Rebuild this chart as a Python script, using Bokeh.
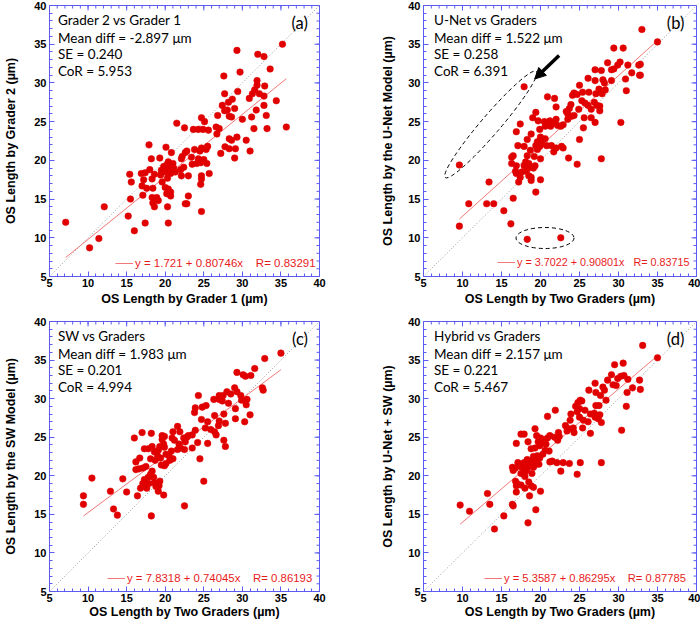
import math
from bokeh.plotting import figure
from bokeh.models import (Label, Range1d, Arrow, NormalHead, FixedTicker, Legend, LegendItem)
from bokeh.layouts import column, row
from bokeh.embed import file_html
from bokeh.resources import INLINE
from bokeh.core.properties import value

# ---------------- data ----------------
pts_a = [(35.2,35.0),(29.3,34.2),(32.0,33.7),(32.8,33.4),(33.6,31.8),(29.7,31.4),(27.6,30.9),(31.9,30.3),
         (31.9,29.7),(32.9,29.6),(31.6,29.1),(31.3,28.6),(29.4,28.9),(27.7,28.6),(30.9,28.0),(32.2,28.6),
         (32.8,28.3),(34.4,27.7),(28.2,27.5),(28.7,27.9),(29.0,26.7),(27.4,27.1),(27.7,26.4),(28.05,26.5),
         (32.8,27.1),(31.8,26.5),(28.3,25.7),(28.6,25.6),(30.0,25.3),(31.2,25.6),(33.1,25.8),(26.8,25.8),
         (24.7,25.5),(25.1,25.0),(21.5,24.8),(22.5,24.2),(23.65,24.0),(24.3,24.0),(24.9,24.0),(25.6,23.9),
         (26.6,24.3),(27.0,24.1),(26.7,23.4),(31.5,24.1),(33.2,24.1),(35.7,24.3),(28.3,22.8),(28.6,22.6),
         (29.3,23.0),(27.75,21.75),(28.3,21.5),(29.1,21.5),(30.5,22.6),(31.0,21.2),(29.0,20.3),(27.2,20.9),
         (17.9,22.0),(20.1,21.7),(20.8,21.0),(22.8,21.2),(22.6,21.0),(23.8,21.4),(24.7,21.6),(25.5,21.8),
         (24.5,21.2),(25.3,21.4),(22.1,20.2),(22.2,20.5),(23.4,20.4),(24.3,20.2),(25.0,20.1),(24.6,19.7),
         (25.4,19.6),(23.5,19.5),(24.1,19.6),(22.4,19.1),(18.2,20.2),(19.3,20.3),(20.4,19.8),(19.8,19.2),
         (20.2,19.4),(20.6,19.3),(21.0,19.6),(21.1,19.0),(20.5,18.8),(20.0,18.5),(20.7,18.3),(21.3,18.5),
         (19.4,18.1),(19.5,18.7),(22.0,18.8),(22.1,18.0),(23.0,18.0),(18.0,18.8),(16.9,18.3),(15.4,18.2),
         (15.6,17.2),(17.4,18.4),(17.2,17.5),(18.6,18.2),(18.3,17.6),(17.0,16.7),(17.6,16.4),(18.4,16.4),
         (19.6,17.2),(20.3,17.7),(20.0,16.5),(20.4,16.3),(20.7,15.9),(20.7,15.4),(20.2,15.7),(24.7,18.0),
         (24.7,17.6),(24.6,16.9),(25.7,18.3),(23.0,15.4),(17.1,15.5),(18.3,15.2),(18.9,15.2),(19.1,14.8),
         (18.4,14.5),(18.6,14.0),(15.5,15.0),(22.6,14.4),(22.8,14.4),(20.3,14.0),(24.7,13.4),(15.2,12.8),
         (17.4,11.9),(20.4,11.9),(7.1,12.0),(10.2,8.7),(11.4,9.9),(12.1,14.0),(16.0,10.9)]

pts_b = [(35.0,35.3),(29.4,34.5),(30.6,34.5),(28.6,32.6),(29.1,31.7),(29.4,31.8),(29.9,32.3),(30.2,32.7),
         (31.2,32.3),(32.6,32.3),(31.7,31.3),(32.7,31.0),(30.9,30.5),(31.0,29.0),(30.3,24.9),(27.0,31.7),
         (27.8,31.6),(26.1,30.6),(27.0,30.3),(28.0,30.4),(28.2,30.0),(29.1,30.3),(28.3,29.1),(27.5,29.2),
         (27.9,28.6),(27.1,28.6),(25.0,29.7),(24.3,28.7),(24.1,28.4),(24.7,28.5),(25.4,28.8),(26.2,28.8),
         (25.3,27.7),(25.7,27.4),(26.1,27.1),(26.9,27.5),(27.2,27.1),(27.6,27.0),(27.6,26.4),(26.5,26.6),
         (24.9,26.6),(23.9,27.2),(23.7,26.7),(23.3,26.3),(23.5,26.0),(24.0,25.7),(24.3,25.8),(25.6,25.5),
         (26.5,25.5),(27.0,24.9),(25.5,24.2),(25.0,22.7),(23.5,25.3),(22.0,25.3),(21.8,28.0),(20.9,28.2),
         (22.0,26.9),(19.4,26.2),(19.0,25.5),(19.7,25.1),(20.5,25.0),(20.9,24.6),(21.2,25.1),(20.6,24.4),
         (21.3,24.4),(21.8,24.8),(22.2,24.5),(22.6,24.4),(22.9,24.6),(17.4,24.7),(16.9,23.7),(18.8,23.4),
         (18.3,22.7),(19.9,24.0),(20.0,23.0),(20.6,22.8),(20.0,22.6),(19.6,22.4),(19.4,21.9),(19.9,21.8),
         (20.2,22.1),(20.8,21.9),(21.4,21.9),(22.0,21.6),(22.7,21.8),(22.9,21.6),(21.7,21.1),(17.1,21.9),
         (17.9,21.8),(18.7,21.3),(19.6,21.4),(20.0,20.2),(16.5,20.6),(16.3,20.4),(18.3,20.6),(19.2,20.5),
         (18.1,19.8),(16.3,19.6),(16.9,19.3),(17.9,19.3),(18.5,19.6),(18.7,19.1),(19.1,19.0),(19.3,19.3),
         (16.8,18.6),(17.6,18.5),(18.2,18.6),(16.9,18.3),(18.5,18.0),(18.8,17.8),(17.4,17.8),(17.2,17.2),
         (18.8,17.4),(20.0,17.5),(19.4,15.9),(23.6,20.3),(24.7,19.5),(27.8,20.2),(13.4,17.2),(16.5,15.1),
         (13.1,14.4),(14.0,14.4),(15.3,13.5),(16.2,11.8),(17.9,29.5),(18.3,9.8),(22.6,10.0),(9.6,19.4),
         (9.6,11.5),(10.8,14.4),(33.0,36.9),(32.8,32.4),(32.8,31.0)]

pts_c = [(35.0,35.9),(32.9,35.2),(31.6,33.9),(29.3,33.4),(30.1,33.1),(30.4,32.9),(31.1,33.0),(32.6,31.4),
         (32.7,31.1),(29.0,31.4),(29.3,30.9),(28.0,30.9),(28.5,30.6),(27.0,30.4),(27.5,30.4),(29.8,30.4),
         (30.6,29.9),(29.9,29.8),(28.2,29.4),(27.4,29.7),(27.0,29.9),(26.3,29.9),(30.5,29.2),(29.1,28.7),
         (24.3,30.4),(25.3,29.1),(24.8,28.9),(23.9,28.8),(23.8,28.2),(24.7,27.3),(25.5,27.0),(26.4,27.8),
         (27.0,27.1),(27.8,26.8),(27.6,28.0),(31.0,27.9),(29.1,27.4),(30.3,27.0),(25.9,26.0),(25.2,26.2),
         (26.4,25.7),(26.9,26.5),(26.6,25.3),(27.6,24.6),(27.8,23.8),(25.5,24.2),(24.5,22.2),(25.0,19.3),
         (22.5,16.1),(23.9,25.9),(23.5,25.3),(23.0,25.2),(22.8,25.0),(21.9,25.7),(21.6,26.4),(21.0,25.7),
         (20.9,24.9),(21.2,24.6),(22.4,24.9),(22.6,24.4),(21.8,24.1),(22.0,23.6),(21.6,23.4),(22.5,23.4),
         (23.5,23.6),(24.2,24.3),(19.6,25.2),(19.9,25.1),(19.6,24.7),(19.8,24.1),(19.9,23.7),(19.3,23.8),
         (19.1,23.3),(18.2,25.5),(17.0,25.6),(16.0,24.9),(17.3,23.5),(17.8,23.5),(18.3,23.8),(18.6,23.1),
         (19.0,22.6),(19.4,22.3),(20.1,22.8),(20.5,22.6),(20.8,23.2),(21.0,22.2),(20.6,22.0),(20.1,21.6),
         (19.5,21.4),(19.9,21.3),(18.7,22.0),(18.1,22.2),(16.7,22.3),(16.2,21.8),(16.2,20.8),(16.6,20.9),
         (17.1,21.0),(17.5,21.2),(18.3,20.6),(18.1,20.2),(17.8,19.8),(18.5,19.8),(17.3,19.5),(17.1,19.0),
         (17.9,19.0),(16.8,18.4),(18.6,19.1),(19.0,18.9),(19.3,19.3),(19.2,18.7),(18.8,18.6),(17.6,18.4),
         (19.1,18.0),(19.8,17.5),(16.4,17.4),(15.0,17.9),(14.5,19.6),(12.9,18.0),(13.3,15.7),(13.8,14.9),
         (18.2,14.8),(9.4,17.4),(9.4,16.3),(10.5,19.7)]

pts_d = [(33.1,36.9),(35.0,35.3),(29.5,34.4),(30.6,34.6),(29.1,33.1),(29.9,32.6),(30.3,32.9),(30.7,33.0),
         (31.2,32.5),(32.7,32.4),(31.8,31.4),(32.8,31.2),(31.1,30.8),(31.0,29.0),(30.4,25.9),(29.3,31.8),
         (29.7,31.7),(28.6,32.4),(27.0,32.0),(28.0,31.5),(28.2,31.1),(26.2,31.1),(27.1,30.8),(27.7,30.4),
         (28.4,29.8),(27.5,29.1),(27.1,29.1),(25.1,29.8),(24.8,29.5),(25.3,29.7),(24.5,29.0),(25.0,28.7),
         (24.7,28.3),(25.7,28.5),(26.4,28.0),(26.9,28.1),(27.0,27.6),(27.6,27.9),(27.8,26.9),(27.4,27.4),
         (25.0,27.6),(25.5,27.2),(26.1,27.0),(25.4,26.2),(26.4,25.5),(23.9,28.0),(23.8,27.2),(23.2,26.5),
         (23.6,26.1),(23.4,25.8),(24.2,26.2),(24.3,25.6),(22.3,25.6),(22.4,25.1),(21.8,25.0),(22.2,24.6),
         (21.9,28.5),(20.9,27.7),(21.2,25.2),(20.9,24.9),(20.4,24.7),(20.7,24.1),(20.3,24.3),(20.0,24.9),
         (19.7,24.4),(19.9,23.9),(20.6,23.3),(21.1,23.2),(20.3,22.8),(19.5,25.2),(19.3,26.1),(17.5,25.4),
         (17.9,25.4),(16.9,24.2),(18.4,24.4),(18.8,23.5),(19.3,23.6),(19.1,22.5),(19.6,22.6),(19.9,22.3),
         (19.5,21.9),(19.8,21.5),(18.8,21.9),(18.3,22.1),(17.9,21.7),(17.1,21.7),(18.5,21.3),(19.1,21.1),
         (19.4,21.5),(18.3,20.9),(17.6,21.1),(18.1,20.6),(16.8,21.0),(16.5,20.7),(16.4,21.1),(17.8,20.3),
         (17.5,20.3),(18.0,19.9),(18.9,20.3),(16.8,19.3),(17.0,19.0),(17.5,18.8),(16.9,18.7),(18.5,19.2),
         (18.8,18.7),(19.1,18.5),(18.0,18.4),(20.0,18.0),(16.9,17.9),(18.6,17.4),(16.4,16.3),(16.5,16.1),
         (19.4,15.6),(15.3,14.8),(18.4,13.9),(14.1,13.1),(21.2,21.8),(21.5,21.9),(22.1,21.7),(22.9,21.7),
         (23.7,21.6),(25.1,21.7),(27.8,21.7),(22.6,20.6),(24.7,20.2),(13.2,17.7),(13.5,16.3),(9.7,16.2),
         (10.9,15.4)]

titles = ["Grader 2 vs Grader 1", "U-Net vs Graders", "SW vs Graders", "Hybrid vs Graders"]
tags = ["(a)", "(b)", "(c)", "(d)"]
mean_diff = [-2.897, 1.522, 1.983, 2.157]
se_vals = [0.240, 0.258, 0.201, 0.221]
cor_vals = [5.953, 6.391, 4.994, 5.467]
fit_intercept = [1.721, 3.7022, 7.8318, 5.3587]
fit_slope = [0.80746, 0.90801, 0.74045, 0.86295]
fit_r = [0.83291, 0.83715, 0.86193, 0.87785]
x_labels = ["OS Length by Grader 1 (\u00b5m)", "OS Length by Two Graders (\u00b5m)",
            "OS Length by Two Graders (\u00b5m)", "OS Length by Two Graders (\u00b5m)"]
y_labels = ["OS Length by Grader 2 (\u00b5m)", "OS Length by the U-Net Model (\u00b5m)",
            "OS Length by the SW Model (\u00b5m)", "OS Length by U-Net + SW (\u00b5m)"]
major_ticks = [5, 10, 15, 20, 25, 30, 35, 40]
minor_ticks = list(range(5, 41))
LO, HI = 5, 40

# ---------------- style ----------------
BLUE = "#5c5cf2"
RED = "#e00000"
FITC = "#f07878"
TXT_RED = "#e81c1c"
HEAD_FONT = "Lato"
AX_FONT = "Liberation Sans"

FIG_W, FIG_H = 350, 314
# layout per panel: borders, label standoffs, header x, tag position, legend location / font / gap
layout = [
    dict(bl=49, br=31, bt=5, bb=38, ys=13, xs=2, hx=6.1, tagx=38.5, tag_align="right",
         leg=(66, 6), lfs="11.5px", gap=4),
    dict(bl=73, br=4, bt=5, bb=38, ys=10, xs=2, hx=6.35, tagx=36.2, tag_align="left",
         leg=(74, 7.5), lfs="10.8px", gap=3),
    dict(bl=49, br=31, bt=7, bb=37, ys=13, xs=0, hx=6.1, tagx=38.5, tag_align="right",
         leg=(58, 6), lfs="11.4px", gap=4),
    dict(bl=73, br=4, bt=7, bb=37, ys=10, xs=0, hx=6.35, tagx=36.2, tag_align="left",
         leg=(61, 6), lfs="11.2px", gap=4),
]
header_y = [38.07, 35.84, 33.77, 31.52]
tag_y = 37.7


def style_axis(ax):
    ax.ticker = FixedTicker(ticks=major_ticks, minor_ticks=minor_ticks)
    ax.axis_line_color = BLUE
    ax.major_tick_line_color = BLUE
    ax.minor_tick_line_color = BLUE
    ax.major_tick_in = 5
    ax.major_tick_out = 0
    ax.minor_tick_in = 3
    ax.minor_tick_out = 0
    ax.major_label_text_font = AX_FONT
    ax.major_label_text_font_style = "bold"
    ax.major_label_text_font_size = "11px"
    ax.major_label_text_color = "black"
    ax.axis_label_text_font = AX_FONT
    ax.axis_label_text_font_style = "bold"
    ax.axis_label_text_font_size = "12.5px"
    ax.axis_label_text_color = "black"


def make_panel(i, pts):
    L = layout[i]
    xs = [q[0] for q in pts]
    ys = [q[1] for q in pts]
    p = figure(width=FIG_W, height=FIG_H, x_range=Range1d(LO, HI), y_range=Range1d(LO, HI),
               output_backend="svg", toolbar_location=None,
               min_border_left=L["bl"], min_border_right=L["br"],
               min_border_top=L["bt"], min_border_bottom=L["bb"])
    p.grid.visible = False
    p.outline_line_color = BLUE
    style_axis(p.xaxis[0])
    style_axis(p.yaxis[0])
    p.xaxis[0].axis_label = x_labels[i]
    p.yaxis[0].axis_label = y_labels[i]
    p.xaxis[0].axis_label_standoff = L["xs"]
    p.xaxis[0].major_label_standoff = 2
    p.yaxis[0].major_label_standoff = 3
    p.yaxis[0].axis_label_standoff = L["ys"]

    # inward ticks on the top and right frame edges
    p.ray(x=minor_ticks, y=HI, length=3, angle=-math.pi / 2, length_units="screen",
          line_color=BLUE, line_width=1)
    p.ray(x=major_ticks, y=HI, length=5, angle=-math.pi / 2, length_units="screen",
          line_color=BLUE, line_width=1)
    p.ray(x=HI, y=minor_ticks, length=3, angle=math.pi, length_units="screen",
          line_color=BLUE, line_width=1)
    p.ray(x=HI, y=major_ticks, length=5, angle=math.pi, length_units="screen",
          line_color=BLUE, line_width=1)

    # identity line
    p.line([LO, HI], [LO, HI], line_color="#9a9a9a", line_width=1, line_dash="1 2")
    # fit line over data range
    fx = [min(xs), max(xs)]
    fy = [fit_intercept[i] + fit_slope[i] * v for v in fx]
    fr = p.line(fx, fy, line_color=FITC, line_width=1)
    p.scatter(xs, ys, size=6.6, fill_color=RED, line_color=RED, line_width=0.5)

    gap = "\u00a0" * L["gap"]
    txt = ("y = " + str(fit_intercept[i]) + " + " + str(fit_slope[i]) + "x" + gap
           + "R= " + str(fit_r[i]))
    leg = Legend(items=[LegendItem(label=value(txt), renderers=[fr])], location=L["leg"],
                 orientation="horizontal", border_line_color=None, background_fill_alpha=0,
                 padding=0, margin=0, spacing=0, glyph_width=18, glyph_height=14,
                 label_height=14, label_standoff=2, label_text_font=AX_FONT,
                 label_text_font_size=L["lfs"], label_text_color=TXT_RED)
    p.add_layout(leg)

    lines = [titles[i],
             "Mean diff = " + f"{mean_diff[i]:.3f}" + " \u03bcm",
             "SE = " + f"{se_vals[i]:.3f}",
             "CoR = " + f"{cor_vals[i]:.3f}"]
    for t, yy in zip(lines, header_y):
        p.add_layout(Label(x=L["hx"], y=yy, text=t, text_font=HEAD_FONT, text_font_size="13.5px",
                           text_color="black", text_baseline="middle", text_align="left"))
    p.add_layout(Label(x=L["tagx"], y=tag_y, text=tags[i], text_font=HEAD_FONT,
                       text_font_size="16.5px", text_color="black", text_baseline="middle",
                       text_align=L["tag_align"]))
    return p


pa = make_panel(0, pts_a)
pb = make_panel(1, pts_b)
pc = make_panel(2, pts_c)
pd = make_panel(3, pts_d)

# annotations in (b): outlier ellipses and arrow
pb.ellipse(x=[13.63], y=[24.64], width=[140], height=[19], angle=[0.862],
           width_units="screen", height_units="screen",
           fill_color=None, line_color="black", line_width=1, line_dash="4 3")
pb.ellipse(x=[20.58], y=[9.97], width=[58], height=[21], angle=[0.0],
           width_units="screen", height_units="screen",
           fill_color=None, line_color="black", line_width=1, line_dash="4 3")
pb.add_layout(Arrow(end=NormalHead(size=11, fill_color="black", line_color="black"),
                    x_start=22.38, y_start=33.55, x_end=19.25, y_end=30.5,
                    line_color="black", line_width=3.5))

layout_root = column(row(pa, pb), row(pc, pd))
open("out.html", "w").write(file_html(layout_root, INLINE))
